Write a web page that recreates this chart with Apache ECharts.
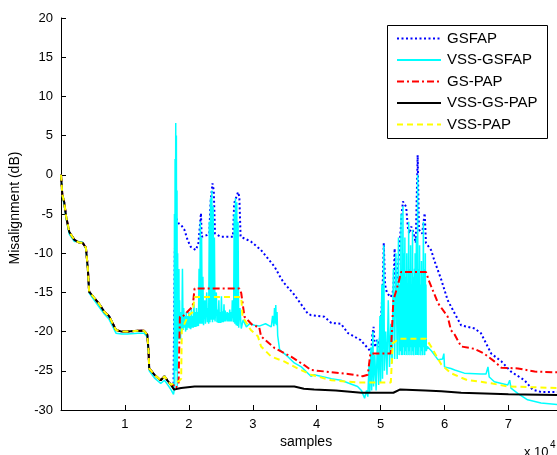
<!DOCTYPE html>
<html>
<head>
<meta charset="utf-8">
<script src="https://cdn.jsdelivr.net/npm/echarts@6/dist/echarts.min.js"></script>
<style>html,body{margin:0;padding:0;background:#fff}#c{width:557px;height:455px}</style>
</head>
<body>
<div id="c"></div>
<script>
// x values are in units of 1e4 samples
const seriesNames = ['GSFAP', 'VSS-GSFAP', 'GS-PAP', 'VSS-GS-PAP', 'VSS-PAP'];
const yTicks = [-30, -25, -20, -15, -10, -5, 0, 5, 10, 15, 20];
const xTicks = [1, 2, 3, 4, 5, 6, 7];

// shared initial convergence (all algorithms nearly identical)
const early = [[0,0],[0.02,-2.5],[0.05,-3.5],[0.08,-5.3],[0.13,-7.3],[0.21,-8.3],[0.27,-8.6],[0.34,-8.7],[0.39,-9.3],[0.42,-12],[0.44,-14.9],[0.52,-15.7],[0.6,-16.5],[0.68,-17.5],[0.75,-18],[0.8,-18.8],[0.86,-19.8],[0.95,-20],[1.04,-20],[1.2,-19.9],[1.30,-19.9],[1.35,-20.4],[1.37,-22.5],[1.38,-24.7],[1.46,-25.5],[1.56,-26.2],[1.62,-25.7],[1.67,-26.3],[1.72,-26.8]];

const gsfapTail = [[1.76,-27],[1.78,-10],[1.80,-5.5],[1.84,-6.2],[1.88,-6.4],[1.93,-7.0],[1.98,-8.3],[2.03,-9.2],[2.11,-9.6],[2.15,-8.7],[2.18,-8.5],[2.19,-4.9],[2.2,-7.9],[2.28,-7.7],[2.32,-7.5],[2.34,-3.5],[2.37,-1.1],[2.39,-2.0],[2.41,-7.5],[2.5,-7.9],[2.69,-7.9],[2.71,-3.6],[2.77,-2.2],[2.79,-2.8],[2.81,-7.9],[2.97,-8.5],[3.13,-9.6],[3.34,-11.7],[3.44,-13.2],[3.49,-13.8],[3.65,-15.3],[3.86,-17.7],[3.91,-17.9],[4.12,-18.1],[4.23,-18.9],[4.38,-19.0],[4.49,-20.2],[4.54,-20.4],[4.69,-21.1],[4.82,-22.3],[4.85,-22.8],[4.87,-20.5],[4.89,-19.4],[4.91,-22.0],[4.95,-21.0],[4.98,-22.0],[5.03,-15],[5.05,-8.7],[5.07,-14],[5.1,-15.1],[5.16,-15.6],[5.2,-14.7],[5.22,-9.4],[5.24,-14.5],[5.27,-12],[5.29,-10.0],[5.33,-5],[5.35,-3.4],[5.4,-4.1],[5.43,-7.0],[5.45,-7.5],[5.48,-6.6],[5.52,-7.5],[5.55,-8.7],[5.58,2.5],[5.6,-7.0],[5.65,-7.5],[5.69,-4.9],[5.71,-8.7],[5.79,-9.6],[5.84,-10.9],[5.95,-13.4],[6.05,-16.0],[6.16,-17.7],[6.26,-19.2],[6.47,-19.6],[6.57,-20.2],[6.73,-22.8],[6.89,-23.8],[7.04,-25.1],[7.25,-26.2],[7.38,-27.4],[7.51,-27.7],[7.78,-27.7]];

const vssGsfap = [[0,0],[0.02,-2.7],[0.05,-3.8],[0.08,-5.6],[0.13,-7.6],[0.21,-8.5],[0.27,-8.5],[0.34,-8.6],[0.39,-9.5],[0.42,-12.2],[0.44,-15.1],[0.52,-16.0],[0.6,-16.9],[0.68,-17.8],[0.75,-18.4],[0.8,-19.2],[0.86,-20.2],[0.95,-20.3],[1.04,-20.3],[1.2,-20.2],[1.30,-20.2],[1.35,-20.7],[1.37,-22.8],[1.38,-25.0],[1.46,-25.9],[1.56,-26.6],[1.62,-26.2],[1.67,-26.8],[1.72,-27.4],[1.76,-28.0],
[1.77,-27.5],[1.775,-5],[1.78,-27],[1.785,2],[1.79,-20],[1.795,6.6],[1.80,-25],[1.805,5],[1.81,-22],[1.815,-2],[1.82,-27],[1.825,-10],[1.83,-21],[1.835,-14],[1.84,-20],[1.845,-12],[1.85,-21],[1.855,-16],[1.86,-20],[1.865,-18],[1.87,-21],[1.88,-17.5],
[1.89,-20],[1.9,-12],[1.91,-19.8],[1.92,-17],[1.93,-19.5],[1.94,-18],[1.95,-20],[1.96,-17.5],[1.97,-19.8],[1.98,-18],[1.99,-19.5],[2.0,-17.5],[2.01,-19.6],[2.02,-18],[2.03,-19.7],[2.04,-17],[2.05,-19.5],[2.06,-18],[2.07,-19.5],[2.08,-16.5],[2.09,-19.4],[2.1,-17.5],[2.11,-19.4],[2.12,-17],[2.13,-19.3],[2.14,-17.5],[2.15,-19.3],[2.16,-12],[2.17,-19],[2.18,-6],[2.19,-19],[2.2,-8],[2.21,-19],[2.22,-13],[2.23,-19.2],[2.24,-17],[2.25,-16],[2.26,-19],[2.27,-17],[2.28,-15],[2.29,-18.8],[2.3,-17],[2.31,-19],[2.32,-6],[2.33,-18.8],[2.34,-3],[2.35,-18.5],[2.36,-2],[2.37,-18.8],[2.38,-4],[2.39,-18.5],[2.4,-8],[2.41,-18.7],[2.42,-17],[2.43,-15],[2.44,-18.8],[2.45,-17.2],[2.46,-18.9],[2.47,-16],[2.48,-18.9],[2.49,-17.5],[2.5,-18.9],[2.51,-15.5],[2.52,-18.8],[2.53,-17.4],[2.54,-18.8],[2.55,-16.5],[2.56,-18.7],[2.57,-17.3],[2.58,-18.7],[2.6,-17.5],[2.61,-18.7],[2.62,-17.6],[2.63,-18.7],[2.64,-17.2],[2.65,-18.7],[2.66,-17.5],[2.67,-18.7],[2.68,-16],[2.7,-18.8],[2.71,-5],[2.72,-19],[2.73,-3],[2.74,-19.2],[2.75,-3.5],[2.76,-19.3],[2.77,-6],[2.78,-19.5],[2.8,-17],[2.82,-19.6],[2.85,-18.5],[2.9,-19.4],[2.95,-19],[3.03,-19.2],[3.1,-19.3],[3.2,-19],[3.29,-19.4],[3.31,-18],[3.33,-19.3],[3.34,-17],[3.35,-19],[3.36,-16.6],[3.37,-19.2],[3.38,-17.5],[3.39,-20.5],[3.42,-22.3],[3.55,-23.2],[3.65,-24],[3.76,-24.5],[3.91,-25.7],[3.96,-25.5],[4.23,-26],[4.38,-26.2],[4.64,-27.0],[4.70,-27.5],[4.75,-28.5],[4.78,-27.5],[4.80,-28.3],[4.82,-24],[4.83,-27.8],[4.85,-22],[4.86,-27.5],[4.88,-20],[4.89,-27.0],[4.91,-23],[4.93,-27.5],[4.95,-21],[4.97,-26.8],[4.99,-18],[5.0,-26.5],[5.02,-14],[5.03,-26],[5.05,-9],[5.06,-25],[5.08,-20],[5.1,-25.5],[5.12,-16],[5.14,-24.5],[5.16,-19],[5.18,-24],[5.2,-12],[5.22,-23.5],[5.24,-10],[5.26,-23.5],
[5.28,-8],[5.29,-23],[5.30,-14],[5.31,-22.5],[5.32,-5],[5.325,-23],[5.33,-12],[5.34,-23],[5.35,-4],[5.355,-22],[5.36,-10],[5.37,-23],[5.38,-8],[5.385,-22.5],[5.39,-13],[5.40,-23],[5.41,-10],[5.415,-22],[5.42,-15],[5.43,-23],[5.44,-6],[5.445,-22.5],[5.45,-12],[5.46,-23],[5.47,-9],[5.475,-22],[5.48,-14],[5.49,-23],[5.50,-7],[5.505,-22.5],[5.51,-13],[5.52,-23],[5.53,-12],[5.535,-22],[5.54,-10],[5.55,-23],[5.56,-8],[5.565,-22],[5.57,-14],[5.575,-23],[5.58,0],[5.585,-22.5],[5.59,-12],[5.60,-23],[5.61,-9],[5.615,-22],[5.62,-14],[5.63,-23],[5.64,-11],[5.645,-22.5],[5.65,-13],[5.66,-23],[5.67,-6],[5.675,-22],[5.68,-12],[5.69,-23],[5.70,-10],[5.705,-22.5],[5.71,-14],[5.715,-22.5],
[5.73,-21.9],[5.8,-22.5],[5.9,-23.6],[5.97,-23.5],[5.99,-22.8],[6.0,-24.5],[6.1,-24.7],[6.16,-24.9],[6.31,-25.3],[6.57,-25.4],[6.65,-25.4],[6.68,-24.5],[6.7,-25.8],[6.78,-26.4],[6.99,-26.8],[7.02,-26.2],[7.04,-27.2],[7.15,-27.9],[7.3,-28.7],[7.51,-29.1],[7.78,-29.3]];

const gsPapTail = [[1.76,-26.8],[1.80,-27.2],[1.84,-26.5],[1.86,-18.1],[1.9,-18.1],[2.06,-16.8],[2.09,-14.5],[2.79,-14.5],[2.82,-15.1],[2.87,-18.1],[3.0,-19.2],[3.1,-19.4],[3.13,-20.6],[3.34,-22.1],[3.6,-23.2],[3.81,-24.3],[3.91,-24.9],[4.49,-25.4],[4.72,-25.7],[4.80,-25.5],[4.84,-22.8],[5.16,-22.8],[5.2,-16.0],[5.28,-13.8],[5.32,-12.4],[5.71,-12.4],[5.76,-13.6],[5.9,-16.4],[6.05,-18.1],[6.1,-19.8],[6.16,-20.4],[6.26,-21.9],[6.47,-22.2],[6.62,-22.8],[6.78,-23.8],[6.89,-24.6],[7.15,-24.7],[7.41,-25.1],[7.78,-25.2]];

const vssGsPapTail = [[1.77,-27.4],[1.82,-27.3],[1.88,-27.2],[2.09,-27.0],[3.65,-27.0],[3.8,-27.3],[3.96,-27.4],[4.3,-27.5],[4.7,-27.8],[5.2,-27.8],[5.3,-27.4],[5.7,-27.5],[5.95,-27.6],[6.26,-27.8],[7.0,-28.0],[7.78,-28.1]];

const vssPapTail = [[1.76,-26.6],[1.85,-26.3],[1.88,-26.0],[1.89,-19.8],[1.98,-18.1],[2.06,-17.5],[2.09,-15.6],[2.82,-15.6],[2.84,-18.1],[2.97,-19.8],[3.08,-20.6],[3.13,-21.9],[3.29,-23.2],[3.49,-23.8],[3.70,-24.7],[3.91,-25.5],[4.23,-26.2],[4.64,-26.5],[5.16,-26.5],[5.19,-21.5],[5.29,-20.9],[5.71,-20.9],[5.79,-21.9],[5.95,-24.2],[6.1,-25.3],[6.21,-25.7],[6.36,-26.2],[6.57,-26.4],[6.73,-26.6],[6.99,-27.0],[7.78,-27.2]];

const FONT = 'Liberation Sans';
const colors = ['#0000FF', '#00FFFF', '#FF0000', '#000000', '#FFFF00'];
const widths = [2, 1.5, 2, 2, 2];
const dashes = [[2, 2.5], null, [7, 3, 2, 3], null, [6, 4]];

const chart = echarts.init(document.getElementById('c'), null, {renderer: 'canvas'});

function mk(i, data) {
  return {
    name: seriesNames[i], type: 'line', data, showSymbol: false, symbol: 'none', animation: false,
    lineStyle: {color: colors[i], width: widths[i], type: dashes[i] || 'solid'}, itemStyle: {color: colors[i]}, z: 2 + i
  };
}

// manual legend drawn as graphics (line samples + real text)
const legendGraphics = [
  {type: 'rect', left: 387, top: 25, z: 50, shape: {width: 160, height: 113}, style: {fill: '#fff', stroke: '#000', lineWidth: 1}}
];
const legendY = [38.5, 60, 81.5, 103, 124.5];
seriesNames.forEach((n, i) => {
  legendGraphics.push({type: 'line', z: 51, shape: {x1: 397, y1: legendY[i], x2: 441, y2: legendY[i]},
    style: {stroke: colors[i], lineWidth: widths[i] === 1.5 ? 2 : widths[i], lineDash: dashes[i] || null}});
  legendGraphics.push({type: 'text', z: 51, x: 447, y: legendY[i],
    style: {text: n, font: '15px "Liberation Sans"', fill: '#000', textVerticalAlign: 'middle'}});
});

chart.setOption({
  animation: false,
  backgroundColor: '#fff',
  grid: {left: 61, right: 0, top: 18, bottom: 45, containLabel: false},
  xAxis: {
    type: 'value', min: 0, max: 7.76, interval: 1,
    axisLine: {show: true, onZero: false, lineStyle: {color: '#000', width: 1}},
    axisTick: {show: true, inside: true, length: 5, lineStyle: {color: '#000'}},
    splitLine: {show: false},
    axisLabel: {color: '#000', fontFamily: FONT, fontSize: 13, margin: 8, showMinLabel: false, showMaxLabel: false,
      formatter: v => xTicks.includes(Math.round(v*1000)/1000) ? String(Math.round(v)) : ''}
  },
  yAxis: {
    type: 'value', min: -30, max: 20, interval: 5,
    axisLine: {show: true, onZero: false, lineStyle: {color: '#000', width: 1}},
    axisTick: {show: true, inside: true, length: 5, lineStyle: {color: '#000'}},
    splitLine: {show: false},
    axisLabel: {color: '#000', fontFamily: FONT, fontSize: 13, margin: 8,
      formatter: v => yTicks.includes(v) ? String(v) : ''}
  },
  graphic: legendGraphics.concat([
    {type: 'text', left: 280, top: 435, style: {text: 'samples', font: '14px "Liberation Sans"', fill: '#000'}},
    {type: 'text', x: 15, y: 208, rotation: Math.PI/2,
      style: {text: 'Misalignment (dB)', font: '14px "Liberation Sans"', fill: '#000', textAlign: 'center', textVerticalAlign: 'middle'}},
    {type: 'text', left: 524, top: 446, style: {text: 'x 10', font: '13px "Liberation Sans"', fill: '#000'}},
    {type: 'text', left: 550, top: 440, style: {text: '4', font: '10px "Liberation Sans"', fill: '#000'}}
  ]),
  series: [
    mk(0, early.concat(gsfapTail)),
    mk(1, vssGsfap),
    mk(2, early.concat(gsPapTail)),
    mk(3, early.concat(vssGsPapTail)),
    mk(4, early.concat(vssPapTail))
  ]
});
</script>
</body>
</html>
